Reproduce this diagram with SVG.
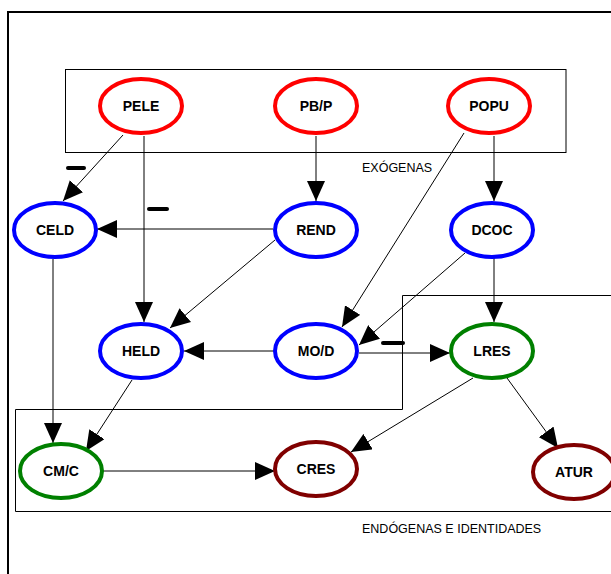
<svg xmlns="http://www.w3.org/2000/svg" width="611" height="574" viewBox="0 0 611 574">
<style>
.frame{fill:none;stroke:#000;stroke-width:1}
.node ellipse{fill:#fff;stroke-width:4}
.ex ellipse{stroke:#ff0000}
.en ellipse{stroke:#0000ff}
.gr ellipse{stroke:#008000}
.dr ellipse{stroke:#800000}
.node text{font-family:"Liberation Sans",Arial,sans-serif;font-weight:bold;font-size:14px;text-anchor:middle;fill:#000}
.cap{font-family:"Liberation Sans",Arial,sans-serif;font-size:12.5px;fill:#000}
#connectors line{stroke:#000;stroke-width:1;marker-end:url(#arr)}
.minus{stroke:#000;stroke-width:4;stroke-linecap:round}
</style>
<defs>
<marker id="arr" viewBox="0 0 20 18" refX="20" refY="9" markerWidth="20" markerHeight="18" markerUnits="userSpaceOnUse" orient="auto">
<path d="M0,0 L20,9 L0,18 z" fill="#000"/>
</marker>
</defs>
<rect width="611" height="574" fill="#fff"/>
<path d="M8,576 V12 H613" fill="none" stroke="#000" stroke-width="2"/>
<rect class="frame" x="65.5" y="69.5" width="500.5" height="83"/>
<path class="frame" d="M613,295.5 H402.5 V409.5 H15.5 V511.5 H613"/>
<text class="cap" x="362" y="172">EXÓGENAS</text>
<text class="cap" x="362" y="533">ENDÓGENAS E IDENTIDADES</text>
<g id="connectors">
<line x1="123" y1="135" x2="63" y2="201"/>
<line x1="144" y1="136" x2="144" y2="322"/>
<line x1="316" y1="136" x2="316" y2="201"/>
<line x1="494" y1="136" x2="494" y2="201"/>
<line x1="464" y1="133" x2="342" y2="327"/>
<line x1="273" y1="229" x2="97" y2="229"/>
<line x1="275" y1="240" x2="170" y2="328"/>
<line x1="465" y1="253" x2="359" y2="345"/>
<line x1="494" y1="258" x2="494" y2="322"/>
<line x1="275" y1="351" x2="184" y2="351"/>
<line x1="359" y1="353" x2="450" y2="353"/>
<line x1="53" y1="259" x2="53" y2="443"/>
<line x1="132" y1="380" x2="86" y2="451"/>
<line x1="96" y1="471" x2="275" y2="471"/>
<line x1="473" y1="378" x2="351" y2="452"/>
<line x1="507" y1="378" x2="558" y2="448"/>
<line class="minus" x1="68" y1="168" x2="84" y2="168" style="marker-end:none;stroke-width:4"/>
<line class="minus" x1="149" y1="209" x2="167" y2="209" style="marker-end:none;stroke-width:4"/>
<line class="minus" x1="383" y1="343" x2="403" y2="343" style="marker-end:none;stroke-width:4"/>
</g>
<g id="PELE" class="node ex"><ellipse cx="141" cy="106" rx="41" ry="27"/><text x="141" y="111">PELE</text></g>
<g id="PBP" class="node ex"><ellipse cx="316" cy="106" rx="41" ry="27"/><text x="316" y="111">PB/P</text></g>
<g id="POPU" class="node ex"><ellipse cx="489" cy="106" rx="41" ry="27"/><text x="489" y="111">POPU</text></g>
<g id="CELD" class="node en"><ellipse cx="55" cy="230" rx="41" ry="27"/><text x="55" y="235">CELD</text></g>
<g id="REND" class="node en"><ellipse cx="316" cy="230" rx="41" ry="27"/><text x="316" y="235">REND</text></g>
<g id="DCOC" class="node en"><ellipse cx="492" cy="230" rx="41" ry="27"/><text x="492" y="235">DCOC</text></g>
<g id="HELD" class="node en"><ellipse cx="141" cy="351" rx="41" ry="27"/><text x="141" y="356">HELD</text></g>
<g id="MOD" class="node en"><ellipse cx="316" cy="351" rx="41" ry="27"/><text x="316" y="356">MO/D</text></g>
<g id="LRES" class="node gr"><ellipse cx="492" cy="351" rx="41" ry="27"/><text x="492" y="356">LRES</text></g>
<g id="CMC" class="node gr"><ellipse cx="61" cy="471" rx="41" ry="27"/><text x="61" y="476">CM/C</text></g>
<g id="CRES" class="node dr"><ellipse cx="316" cy="469" rx="41" ry="27"/><text x="316" y="474">CRES</text></g>
<g id="ATUR" class="node dr"><ellipse cx="574" cy="472" rx="41" ry="27"/><text x="574" y="477">ATUR</text></g>
</svg>
